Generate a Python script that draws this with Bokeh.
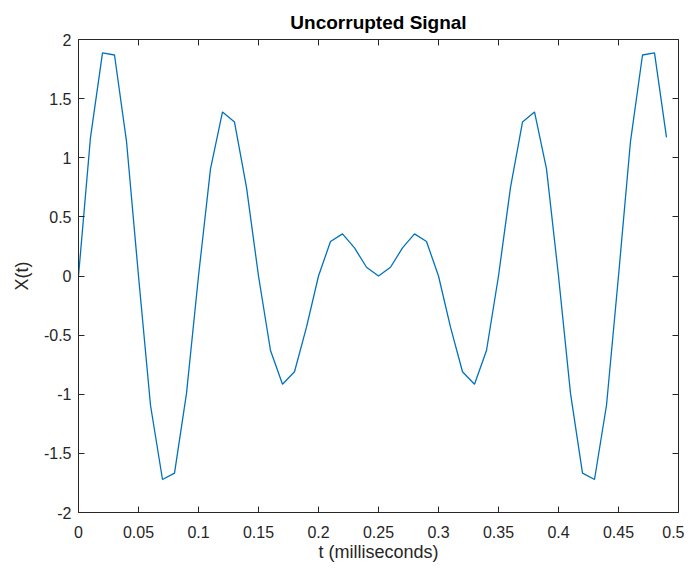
from bokeh.plotting import figure
from bokeh.models import LinearAxis, FixedTicker, Range1d, ColumnDataSource
from bokeh.embed import file_html
from bokeh.resources import INLINE

# time samples (milliseconds)
t_ms = [round(0.01 * k, 2) for k in range(50)]
x_vals = [0.0, 1.173, 1.887, 1.869, 1.139, 0.0, -1.093, -1.721, -1.667, -0.993,
          0.0, 0.906, 1.387, 1.302, 0.749, 0.0, -0.630, -0.916, -0.810, -0.433,
          0.0, 0.292, 0.356, 0.238, 0.074, 0.0, 0.074, 0.238, 0.356, 0.292,
          0.0, -0.433, -0.810, -0.916, -0.630, 0.0, 0.749, 1.302, 1.387, 0.906,
          0.0, -0.993, -1.667, -1.721, -1.093, 0.0, 1.139, 1.869, 1.887, 1.173]
x_ticks = [0, 0.05, 0.1, 0.15, 0.2, 0.25, 0.3, 0.35, 0.4, 0.45, 0.5]
x_tick_labels = ["0", "0.05", "0.1", "0.15", "0.2", "0.25", "0.3", "0.35", "0.4", "0.45", "0.5"]
y_ticks = [-2, -1.5, -1, -0.5, 0, 0.5, 1, 1.5, 2]
y_tick_labels = ["-2", "-1.5", "-1", "-0.5", "0", "0.5", "1", "1.5", "2"]

FONT = "Liberation Sans"
AX = "#262626"

p = figure(frame_width=600, frame_height=473, output_backend="svg", toolbar_location=None,
           x_range=Range1d(0, 0.5), y_range=Range1d(-2, 2),
           min_border_left=78, min_border_right=6, min_border_top=39, min_border_bottom=51,
           x_axis_location="below", y_axis_location="left")
p.title.text = "Uncorrupted Signal"
p.title.align = "center"
p.title.text_font = FONT
p.title.text_font_size = "19px"
p.title.text_font_style = "bold"
p.title.text_color = "#000000"
p.title.standoff = 14
p.outline_line_color = None
p.xgrid.visible = False
p.ygrid.visible = False

src = ColumnDataSource(data=dict(t=t_ms, x=x_vals))
p.line("t", "x", source=src, line_color="#0072BD", line_width=1.3)

def style(ax, show_labels=True):
    ax.axis_line_color = AX
    ax.major_tick_line_color = AX
    ax.minor_tick_line_color = None
    ax.major_tick_in = 6
    ax.major_tick_out = 0
    ax.major_label_text_font = FONT
    ax.major_label_text_font_size = "16px"
    ax.major_label_text_color = AX if show_labels else None
    ax.axis_label_text_font = FONT
    ax.axis_label_text_font_size = "18px"
    ax.axis_label_text_font_style = "normal"
    ax.axis_label_text_color = AX

xb = p.xaxis[0]
xb.ticker = FixedTicker(ticks=x_ticks)
xb.major_label_overrides = {tk: lb for tk, lb in zip(x_ticks, x_tick_labels)}
xb.axis_label = "t (milliseconds)"
style(xb)
xb.major_label_standoff = 13
xb.axis_label_standoff = 1

yl = p.yaxis[0]
yl.ticker = FixedTicker(ticks=y_ticks)
yl.major_label_overrides = {tk: lb for tk, lb in zip(y_ticks, y_tick_labels)}
yl.axis_label = "X(t)"
style(yl)
yl.major_label_standoff = 7
yl.axis_label_standoff = 9

xt = LinearAxis(ticker=FixedTicker(ticks=x_ticks))
style(xt, show_labels=False)
xt.major_label_text_font_size = "0px"
p.add_layout(xt, "above")

yr = LinearAxis(ticker=FixedTicker(ticks=y_ticks))
style(yr, show_labels=False)
yr.major_label_text_font_size = "0px"
p.add_layout(yr, "right")

open("out.html", "w").write(file_html(p, INLINE))
